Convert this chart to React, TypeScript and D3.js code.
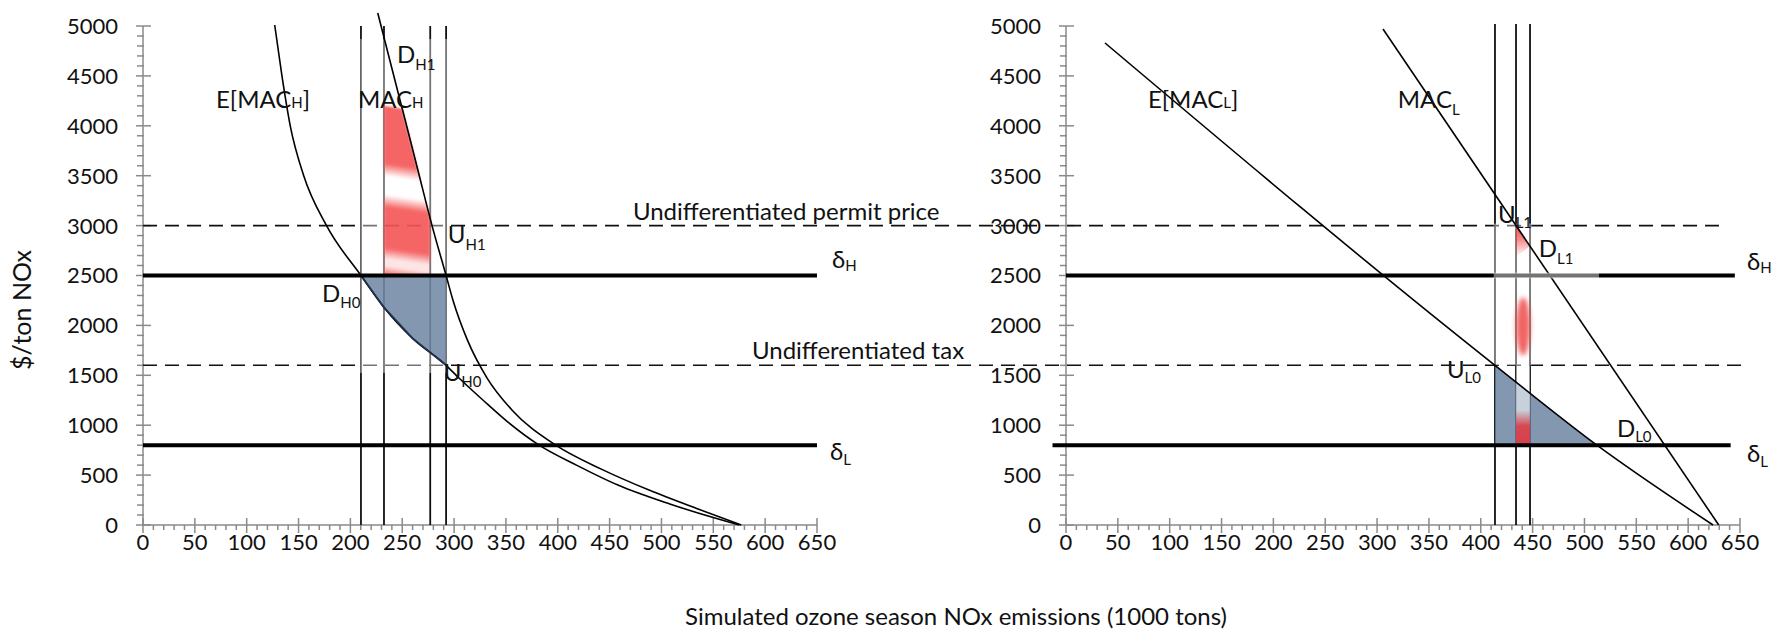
import React from 'react';
import * as d3 from 'd3';

// ---------- data ----------
const yTickValues = [0, 500, 1000, 1500, 2000, 2500, 3000, 3500, 4000, 4500, 5000];
const xTickValues = [0, 50, 100, 150, 200, 250, 300, 350, 400, 450, 500, 550, 600, 650];

// High-damage panel curves (emissions, $/ton)
const emacH: [number, number][] = [
  [127, 5010], [134, 4500], [142, 4000], [155, 3500], [177, 3000], [210.2, 2500],
  [232.4, 2180], [260, 1870], [292.3, 1600], [305, 1470], [328, 1250], [352, 1030],
  [382, 800], [418, 600], [458, 400], [508, 210], [575, 0],
];
const macH: [number, number][] = [
  [226.4, 5130], [240, 4576], [252, 4090], [265, 3560], [279, 2990], [292.3, 2500],
  [299, 2250], [313, 1850], [332, 1470], [356, 1150], [398, 800], [442, 560],
  [488, 350], [534, 165], [577, 0],
];
// Low-damage panel lines
const emacL: [number, number][] = [[37.6, 4830], [413.7, 1600], [512, 800], [624, 0]];
const macL: [number, number][] = [[305.7, 4970], [629.5, 0]];

const leftVerticals = [210.2, 232.4, 277, 292.3];
const rightVerticals = [413.7, 434, 447.5];
const deltaLevels = [2500, 800];
const uniformLevels = [3000, 1600];
const uniformLabels = ['Undifferentiated permit price', 'Undifferentiated tax'];

// shaded regions (data space)
const blueLeft: [number, number][] = [[210.2, 2500], [292.3, 2500], [292.3, 1600], [260, 1870], [232.4, 2180]];
const redLeft: [number, number][] = [[232.4, 4200], [250, 4170], [265, 3560], [277, 3070], [277, 2500], [232.4, 2500]];
const blueRight: [number, number][] = [[413.7, 1600], [413.7, 800], [512, 800]];
const redRightTop: [number, number][] = [[434, 3000], [447.5, 2793], [434, 2690]];

type Ann = { main: string; sub: string; after?: string; x: number; y: number; subDy: number };
const annLeft: Ann[] = [
  { main: 'E[MAC', sub: 'H', after: ']', x: 70.4, y: 4178, subDy: 0 },
  { main: 'MAC', sub: 'H', x: 207.3, y: 4178, subDy: 0 },
  { main: 'D', sub: 'H1', x: 244.9, y: 4629, subDy: 7 },
  { main: 'U', sub: 'H1', x: 294, y: 2826, subDy: 7 },
  { main: 'D', sub: 'H0', x: 172.6, y: 2235, subDy: 6 },
  { main: 'U', sub: 'H0', x: 290, y: 1443, subDy: 6 },
  { main: 'δ', sub: 'H', x: 664.4, y: 2575, subDy: 3 },
  { main: 'δ', sub: 'L', x: 662.5, y: 651, subDy: 5 },
];
const annRight: Ann[] = [
  { main: 'E[MAC', sub: 'L', after: ']', x: 79, y: 4178, subDy: 0 },
  { main: 'MAC', sub: 'L', x: 320, y: 4178, subDy: 7 },
  { main: 'U', sub: 'L1', x: 416.6, y: 3026, subDy: 5 },
  { main: 'D', sub: 'L1', x: 456, y: 2685, subDy: 7 },
  { main: 'U', sub: 'L0', x: 367.4, y: 1473, subDy: 5 },
  { main: 'D', sub: 'L0', x: 531.3, y: 882, subDy: 5 },
  { main: 'δ', sub: 'H', x: 656.7, y: 2555, subDy: 3 },
  { main: 'δ', sub: 'L', x: 656.7, y: 631, subDy: 5 },
];

// ---------- layout ----------
const W = 1790;
const H = 635;
const FONT = "Lato, 'Open Sans', sans-serif";
const AXIS = '#8a8a8a';

const y = d3.scaleLinear().domain([0, 5000]).range([525, 26]);
const xL = d3.scaleLinear().domain([0, 650]).range([143, 817]);
const xR = d3.scaleLinear().domain([0, 650]).range([1066, 1740]);

const yMinor = d3.range(100, 5000, 100).filter((v) => v % 500 !== 0);
const xMinor = d3.range(10, 650, 10).filter((v) => v % 50 !== 0);

function curve(xs: d3.ScaleLinear<number, number>, pts: [number, number][]) {
  return d3.line<[number, number]>().x((d) => xs(d[0])).y((d) => y(d[1])).curve(d3.curveMonotoneX)(pts) || '';
}
function poly(xs: d3.ScaleLinear<number, number>, pts: [number, number][]) {
  return (d3.line<[number, number]>().x((d) => xs(d[0])).y((d) => y(d[1]))(pts) || '') + 'Z';
}

function Axes({ xs }: { xs: d3.ScaleLinear<number, number> }) {
  const x0 = xs(0);
  const y0 = y(0);
  return (
    <g>
      <g stroke={AXIS} strokeWidth={1.5}>
        <line x1={x0} x2={x0} y1={y(0)} y2={y(5000)} />
        {yTickValues.map((v) => (
          <line key={'ym' + v} x1={x0 - 7} x2={x0 + 8} y1={y(v)} y2={y(v)} />
        ))}
        {yMinor.map((v) => (
          <line key={'yn' + v} x1={x0 - 6} x2={x0 + 1} y1={y(v)} y2={y(v)} />
        ))}
        <line x1={xs(0)} x2={xs(650)} y1={y0} y2={y0} />
        {xTickValues.map((v) => (
          <line key={'xm' + v} x1={xs(v)} x2={xs(v)} y1={y0 - 7} y2={y0 + 8} />
        ))}
        {xMinor.map((v) => (
          <line key={'xn' + v} x1={xs(v)} x2={xs(v)} y1={y0} y2={y0 + 5} />
        ))}
      </g>
      <g fontFamily={FONT} fontSize={22} fill="#111">
        {yTickValues.map((v) => (
          <text key={'yl' + v} x={x0 - 25} y={y(v)} dy="0.36em" textAnchor="end">
            {v}
          </text>
        ))}
        {xTickValues.map((v) => (
          <text key={'xl' + v} x={xs(v)} y={y0 + 9} dy="0.72em" textAnchor="middle">
            {v}
          </text>
        ))}
      </g>
    </g>
  );
}

function Label({ xs, a }: { xs: d3.ScaleLinear<number, number>; a: Ann }) {
  return (
    <text x={xs(a.x)} y={y(a.y)} fontFamily={FONT} fontSize={24} fill="#111">
      {a.main}
      <tspan fontSize={15} dy={a.subDy}>
        {a.sub}
      </tspan>
      {a.after ? (
        <tspan fontSize={24} dy={-a.subDy}>
          {a.after}
        </tspan>
      ) : null}
    </text>
  );
}

export default function App() {
  const lineColor = '#000';
  return (
    <svg
      width={W}
      height={H}
      viewBox={`0 0 ${W} ${H}`}
      style={{ position: 'absolute', left: 0, top: 0, background: '#fff' }}
    >
      <defs>
        <linearGradient id="redL" gradientUnits="userSpaceOnUse" x1={xL(258)} y1={y(4250)} x2={xL(233)} y2={y(2450)}>
          <stop offset="0" stopColor="#f44a4a" stopOpacity={0.85} />
          <stop offset="0.36" stopColor="#f44a4a" stopOpacity={0.85} />
          <stop offset="0.43" stopColor="#f44a4a" stopOpacity={0} />
          <stop offset="0.53" stopColor="#f44a4a" stopOpacity={0} />
          <stop offset="0.6" stopColor="#f44a4a" stopOpacity={0.85} />
          <stop offset="0.82" stopColor="#f44a4a" stopOpacity={0.85} />
          <stop offset="0.88" stopColor="#f44a4a" stopOpacity={0.15} />
          <stop offset="0.92" stopColor="#f44a4a" stopOpacity={0.15} />
          <stop offset="0.97" stopColor="#f44a4a" stopOpacity={0.85} />
          <stop offset="1" stopColor="#f44a4a" stopOpacity={0.85} />
        </linearGradient>
        <linearGradient id="redRT" gradientUnits="userSpaceOnUse" x1={0} y1={y(3000)} x2={0} y2={y(2690)}>
          <stop offset="0" stopColor="#f03c3c" stopOpacity={0.9} />
          <stop offset="0.45" stopColor="#f03c3c" stopOpacity={0.6} />
          <stop offset="1" stopColor="#f03c3c" stopOpacity={0} />
        </linearGradient>
        <linearGradient id="redRB" gradientUnits="userSpaceOnUse" x1={0} y1={y(1150)} x2={0} y2={y(800)}>
          <stop offset="0" stopColor="#d8303a" stopOpacity={0} />
          <stop offset="0.45" stopColor="#d8303a" stopOpacity={0.85} />
          <stop offset="1" stopColor="#d8303a" stopOpacity={0.9} />
        </linearGradient>
        <filter id="blur2" x="-50%" y="-50%" width="200%" height="200%">
          <feGaussianBlur stdDeviation={2.5} />
        </filter>
        <filter id="blur1" x="-50%" y="-50%" width="200%" height="200%">
          <feGaussianBlur stdDeviation={1.2} />
        </filter>
      </defs>

      <Axes xs={xL} />
      <Axes xs={xR} />

      {/* vertical lines */}
      <g stroke="#111" strokeWidth={1.8}>
        {leftVerticals.map((v) => (
          <line key={'lv' + v} x1={xL(v)} x2={xL(v)} y1={y(5000)} y2={y(0)} />
        ))}
        {rightVerticals.map((v) => (
          <line key={'rv' + v} x1={xR(v)} x2={xR(v)} y1={y(5020)} y2={y(0)} />
        ))}
      </g>

      {/* uniform instrument dashed lines spanning both panels */}
      <g stroke="#111" strokeWidth={1.6} strokeDasharray="14 8" fill="none">
        <line x1={xL(0)} x2={xR(633)} y1={y(uniformLevels[0])} y2={y(uniformLevels[0])} />
        <line x1={xL(0)} x2={xR(652)} y1={y(uniformLevels[1])} y2={y(uniformLevels[1])} />
      </g>

      {/* pasted overlay regions (greyed lines) */}
      <rect x={xL(209.5)} y={39} width={xL(293.5) - xL(209.5)} height={373 - 39} fill="#fff" opacity={0.42} />
      <rect x={xR(412.5)} y={y(3000) - 2} width={xR(449) - xR(412.5)} height={y(1600) - y(3000) + 2} fill="#fff" opacity={0.4} />

      {/* blue triangles */}
      <path d={poly(xL, blueLeft)} fill="#657d9c" opacity={0.8} />
      <path d={poly(xR, blueRight)} fill="#657d9c" opacity={0.8} />
      <rect x={xR(434)} y={y(1600)} width={xR(447.5) - xR(434)} height={y(800) - y(1600)} fill="#fff" opacity={0.55} />

      {/* red shading */}
      <path d={poly(xL, redLeft)} fill="url(#redL)" filter="url(#blur1)" />
      <path d={poly(xR, redRightTop)} fill="url(#redRT)" />
      <ellipse cx={xR(440.8)} cy={y(1990)} rx={7} ry={29} fill="#ef4a4a" opacity={0.85} filter="url(#blur2)" />
      <line x1={xR(446.8)} x2={xR(446.8)} y1={y(2230)} y2={y(1760)} stroke="#b00010" strokeWidth={3} filter="url(#blur1)" />
      <rect x={xR(434)} y={y(1150)} width={xR(447.5) - xR(434)} height={y(800) - y(1150)} fill="url(#redRB)" />

      {/* curves */}
      <g fill="none" stroke={lineColor} strokeWidth={1.6}>
        <path d={curve(xL, emacH)} />
        <path d={curve(xL, macH)} />
        <path d={curve(xR, emacL)} />
        <path d={curve(xR, macL)} />
      </g>
      <path
        d={d3.line<[number, number]>().x((d) => xL(d[0])).y((d) => y(d[1]))(blueLeft.slice(2).concat([blueLeft[0]])) || ''}
        fill="none"
        stroke="#1f3350"
        strokeWidth={1.8}
      />

      {/* damage levels */}
      <g stroke="#000" strokeWidth={4}>
        {deltaLevels.map((v) => (
          <line key={'dl' + v} x1={xL(0)} x2={xL(650)} y1={y(v)} y2={y(v)} />
        ))}
        <line x1={xR(0)} x2={xR(645)} y1={y(deltaLevels[0])} y2={y(deltaLevels[0])} />
        <line x1={xR(-13)} x2={xR(641)} y1={y(deltaLevels[1])} y2={y(deltaLevels[1])} />
      </g>
      <rect x={xR(412.5)} y={y(2500) - 3} width={xR(514) - xR(412.5)} height={6} fill="#fff" opacity={0.45} />

      {/* labels */}
      {annLeft.map((a, i) => (
        <Label key={'al' + i} xs={xL} a={a} />
      ))}
      {annRight.map((a, i) => (
        <Label key={'ar' + i} xs={xR} a={a} />
      ))}
      <text x={xL(472.5)} y={y(3056)} fontFamily={FONT} fontSize={24} fill="#111">
        {uniformLabels[0]}
      </text>
      <text x={xL(587.3)} y={y(1663)} fontFamily={FONT} fontSize={24} fill="#111">
        {uniformLabels[1]}
      </text>

      {/* axis titles */}
      <text
        transform={`translate(31, ${310}) rotate(-90)`}
        textAnchor="middle"
        fontFamily={FONT}
        fontSize={25}
        fill="#111"
      >
        $/ton NOx
      </text>
      <text x={956} y={625} textAnchor="middle" fontFamily={FONT} fontSize={24} fill="#111">
        Simulated ozone season NOx emissions (1000 tons)
      </text>
    </svg>
  );
}
